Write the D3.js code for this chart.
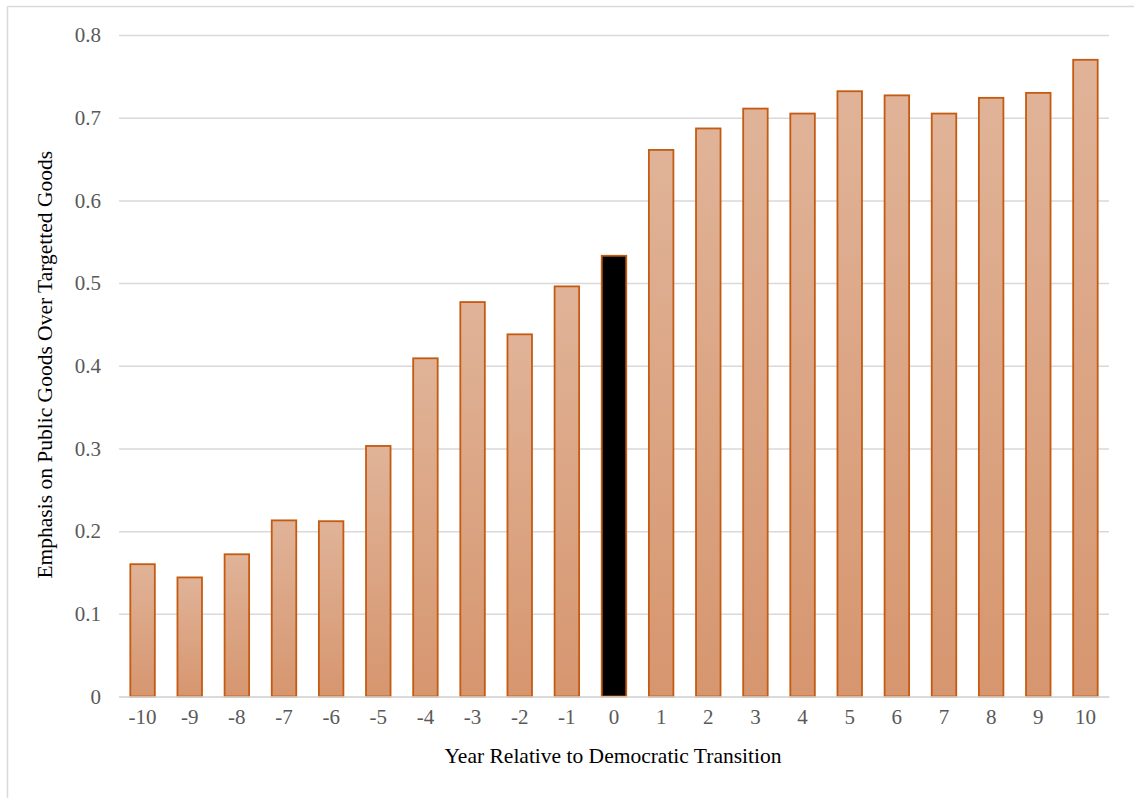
<!DOCTYPE html>
<html>
<head>
<meta charset="utf-8">
<script src="https://cdn.jsdelivr.net/npm/d3@7"></script>
<style>
  html, body { margin: 0; padding: 0; background: #fff; }
  svg { display: block; }
  svg text { font-family: 'Liberation Serif', 'Times New Roman', serif !important; }
</style>
</head>
<body>
<svg id="chart" width="1134" height="798"></svg>
<script>
const years = [-10,-9,-8,-7,-6,-5,-4,-3,-2,-1,0,1,2,3,4,5,6,7,8,9,10];
const values = [0.160,0.144,0.172,0.213,0.212,0.303,0.409,0.477,0.438,0.496,0.533,0.661,0.687,0.711,0.705,0.732,0.727,0.705,0.724,0.730,0.770];
const yTicks = [0,0.1,0.2,0.3,0.4,0.5,0.6,0.7,0.8];
const highlightYear = 0;

const svg = d3.select("#chart");
const margin = {left: 119, right: 1109, top: 35, bottom: 696.5};
const FONT = "'Liberation Serif', 'Times New Roman', serif";

// outer border (left and top)
svg.append("line").attr("x1",7.5).attr("x2",7.5).attr("y1",6.5).attr("y2",798)
  .attr("stroke","#d9d9d9").attr("stroke-width",1.5);
svg.append("line").attr("x1",7.5).attr("x2",1134).attr("y1",6.5).attr("y2",6.5)
  .attr("stroke","#d9d9d9").attr("stroke-width",1.5);

const x = d3.scaleBand().domain(years).range([margin.left, margin.right]).paddingInner(0.48).paddingOuter(0.24);
const y = d3.scaleLinear().domain([0,0.8]).range([margin.bottom, margin.top]);

const defs = svg.append("defs");
const grad = defs.append("linearGradient").attr("id","barGrad").attr("x1",0).attr("y1",0).attr("x2",0).attr("y2",1);
grad.append("stop").attr("offset","0%").attr("stop-color","#e0b398");
grad.append("stop").attr("offset","100%").attr("stop-color","#d6966f");

// y axis + gridlines
const yAxis = d3.axisLeft(y).tickValues(yTicks).tickSize(0).tickPadding(18)
  .tickFormat(d => d === 0 ? "0" : d3.format(".1f")(d));
const gy = svg.append("g").attr("transform",`translate(${margin.left},0)`).call(yAxis)
  .attr("font-family", FONT).attr("font-size", 21);
gy.select(".domain").remove();
gy.selectAll(".tick line").remove();
gy.selectAll(".tick").insert("line", "text")
  .attr("x1",0).attr("x2",margin.right-margin.left)
  .attr("stroke","#d9d9d9").attr("stroke-width",1.5);
gy.selectAll("text").attr("fill","#595959");

// bars
svg.append("g").selectAll("rect").data(years.map((yr,i)=>({yr, v: values[i]})))
  .join("rect")
  .attr("x", d => x(d.yr))
  .attr("width", x.bandwidth())
  .attr("y", d => y(d.v))
  .attr("height", d => y(0) - y(d.v))
  .attr("fill", d => d.yr === highlightYear ? "#000" : "url(#barGrad)")
  .attr("stroke", "#c55a11")
  .attr("stroke-width", 1.8);

// x axis
const xAxis = d3.axisBottom(x).tickSize(0).tickPadding(13);
const gx = svg.append("g").attr("transform",`translate(0,${margin.bottom})`).call(xAxis)
  .attr("font-family", FONT).attr("font-size", 21);
gx.select(".domain").attr("stroke","#d9d9d9").attr("stroke-width",1.5);
gx.selectAll("text").attr("fill","#595959");

// titles
svg.append("text").attr("x",(margin.left+margin.right)/2 - 1).attr("y",763)
  .attr("text-anchor","middle").attr("font-family",FONT)
  .attr("font-size",21.5).attr("fill","#000").text("Year Relative to Democratic Transition");
svg.append("text").attr("transform",`translate(52,${(margin.top+margin.bottom)/2 - 1}) rotate(-90)`)
  .attr("text-anchor","middle").attr("font-family",FONT)
  .attr("font-size",21.5).attr("fill","#000").text("Emphasis on Public Goods Over Targetted Goods");
</script>
</body>
</html>
